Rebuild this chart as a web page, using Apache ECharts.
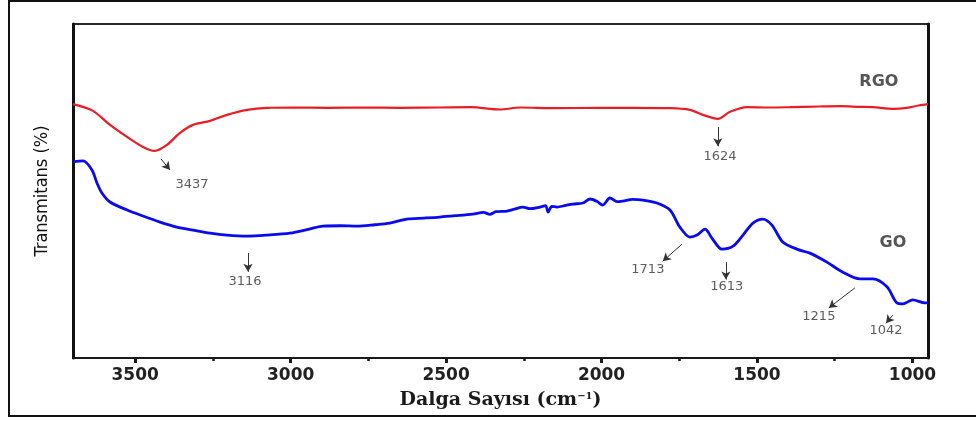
<!DOCTYPE html>
<html>
<head>
<meta charset="utf-8">
<title>FTIR: GO ve RGO</title>
<script src="https://cdn.jsdelivr.net/npm/echarts@6/dist/echarts.min.js"></script>
<style>
  html, body { margin: 0; padding: 0; background: #fff; }
  #chart { width: 976px; height: 421px; }
</style>
</head>
<body>
<div id="chart"></div>
<script>
// FTIR spectra of reduced graphene oxide (RGO) and graphene oxide (GO)
const rgoWavenumber = [3700, 3636, 3581, 3526, 3475, 3437, 3398, 3356, 3314, 3259, 3205, 3140, 3076, 2992, 2880, 2760, 2648, 2520, 2420, 2327, 2262, 2150, 2005, 1900, 1780, 1716, 1674, 1626, 1587, 1532, 1460, 1394, 1300, 1233, 1170, 1127, 1063, 1018, 980, 950];
const rgoValue      = [76.0, 74.0, 69.8, 66.2, 63.2, 62.0, 63.8, 67.4, 69.8, 71.0, 72.8, 74.3, 74.9, 75.0, 74.9, 75.0, 74.9, 75.0, 75.1, 74.4, 75.0, 74.8, 74.9, 74.9, 74.8, 74.3, 72.8, 71.6, 73.7, 75.1, 75.0, 75.1, 75.3, 75.4, 75.2, 75.1, 74.6, 74.9, 75.6, 76.0];

const goWavenumber = [3700, 3668, 3639, 3623, 3607, 3581, 3526, 3475, 3420, 3366, 3314, 3259, 3205, 3140, 3076, 3002, 2940, 2896, 2840, 2787, 2730, 2681, 2626, 2570, 2520, 2470, 2414, 2380, 2359, 2340, 2304, 2280, 2253, 2230, 2198, 2180, 2172, 2160, 2143, 2115, 2092, 2060, 2037, 2015, 1996, 1973, 1950, 1931, 1900, 1867, 1822, 1780, 1748, 1716, 1693, 1667, 1645, 1613, 1577, 1545, 1513, 1481, 1452, 1417, 1372, 1330, 1275, 1224, 1169, 1127, 1082, 1050, 1031, 999, 960, 950];
const goValue      = [58.7, 59.0, 56.3, 52.4, 49.4, 46.7, 44.3, 42.5, 40.7, 39.2, 38.3, 37.4, 36.8, 36.5, 36.8, 37.4, 38.6, 39.5, 39.6, 39.5, 39.9, 40.4, 41.6, 41.9, 42.2, 42.6, 43.1, 43.6, 43.0, 43.8, 44.0, 44.6, 45.2, 44.7, 45.2, 45.6, 43.7, 45.4, 45.2, 45.7, 46.1, 46.4, 47.6, 46.9, 45.8, 47.9, 46.8, 47.0, 47.5, 47.3, 46.4, 44.3, 39.2, 36.2, 36.8, 38.6, 35.9, 32.6, 33.5, 36.8, 40.4, 41.6, 39.8, 34.7, 32.6, 31.4, 28.7, 25.7, 23.7, 23.7, 21.3, 16.5, 16.2, 17.4, 16.5, 16.6];

// Axis ticks (cm^-1)
const xTickValues  = [3500, 3000, 2500, 2000, 1500, 1000];
const xMinorValues = [3250, 2750, 2250, 1750, 1250];

// Peak labels: [wavenumber, level, text]
const peakLabels = [
  [3317, 51.8, '3437'],
  [3147, 22.8, '3116'],
  [1619, 60.2, '1624'],
  [1851, 26.6, '1713'],
  [1597, 21.3, '1613'],
  [1301, 12.3, '1215'],
  [1085,  8.1, '1042']
];
// Peak arrows: [fromWavenumber, fromLevel, toWavenumber, toLevel]
const peakArrows = [
  [3417, 59.6, 3388, 56.3],
  [3137, 31.4, 3137, 25.8],
  [1626, 69.2, 1626, 63.4],
  [1741, 34.1, 1803, 29.0],
  [1600, 28.7, 1600, 23.5],
  [1185, 21.0, 1269, 15.0],
  [1063, 12.9, 1085, 10.4]
];
// Sample names: [wavenumber, level, text]
const sampleNames = [
  [1108, 82.6, 'RGO'],
  [1063, 34.4, 'GO']
];

const zip = (xs, ys) => xs.map((x, i) => [x, ys[i]]);

const chart = echarts.init(document.getElementById('chart'), null, { renderer: 'canvas' });

const xBase = { type: 'value', min: 950, max: 3700, inverse: true, splitLine: { show: false } };

chart.setOption({
  animation: false,
  backgroundColor: '#fff',
  graphic: [{
    type: 'rect',
    shape: { x: 9, y: 1, width: 990, height: 415 },
    style: { fill: 'none', stroke: '#111', lineWidth: 2 },
    silent: true
  }],
  grid: {
    left: 73, right: 48, top: 24, bottom: 63,
    show: true, borderColor: '#2a2a2a', borderWidth: 2
  },
  xAxis: [
    Object.assign({}, xBase, {
      position: 'bottom',
      name: '{t|Dalga Sayısı (cm}{s|−1}{t|)}',
      nameLocation: 'middle',
      nameGap: 33,
      nameTextStyle: {
        rich: {
          t: { fontFamily: 'DejaVu Serif', fontWeight: 'bold', fontSize: 19, color: '#1a1a1a' },
          s: { fontFamily: 'DejaVu Serif', fontWeight: 'bold', fontSize: 10, color: '#1a1a1a', verticalAlign: 'top', padding: [0, 0, 8, 0] }
        }
      },
      axisLine: { show: true, onZero: false, lineStyle: { color: '#1a1a1a', width: 2 } },
      axisTick: { show: true, inside: false, length: 5, customValues: xTickValues, lineStyle: { color: '#1a1a1a', width: 3 } },
      axisLabel: {
        show: true, customValues: xTickValues, margin: 9,
        formatter: v => String(v),
        fontFamily: 'DejaVu Sans', fontWeight: 'bold', fontSize: 17, color: '#222'
      }
    }),
    Object.assign({}, xBase, {
      position: 'bottom',
      axisLine: { show: false },
      axisTick: { show: true, inside: false, length: 3, customValues: xMinorValues, lineStyle: { color: '#1a1a1a', width: 2.5 } },
      axisLabel: { show: false }
    })
  ],
  yAxis: [
    {
      type: 'value', min: 0, max: 100, position: 'left',
      name: 'Transmitans (%)',
      nameLocation: 'middle',
      nameGap: 22,
      nameRotate: 90,
      nameTextStyle: { fontFamily: 'Liberation Sans Narrow, DejaVu Sans Condensed, sans-serif', fontSize: 18, color: '#111' },
      axisLine: { show: true, onZero: false, lineStyle: { color: '#111', width: 3 } },
      axisTick: { show: false }, axisLabel: { show: false }, splitLine: { show: false }
    },
    {
      type: 'value', min: 0, max: 100, position: 'right',
      axisLine: { show: true, onZero: false, lineStyle: { color: '#111', width: 3 } },
      axisTick: { show: false }, axisLabel: { show: false }, splitLine: { show: false }
    }
  ],
  series: [
    {
      name: 'RGO', type: 'line', xAxisIndex: 0, yAxisIndex: 0,
      data: zip(rgoWavenumber, rgoValue),
      smooth: 0.3, showSymbol: false,
      lineStyle: { color: '#ec1c24', width: 2.2 }
    },
    {
      name: 'GO', type: 'line', xAxisIndex: 0, yAxisIndex: 0,
      data: zip(goWavenumber, goValue),
      smooth: 0.3, showSymbol: false,
      lineStyle: { color: '#0a0af0', width: 2.8 },
      markLine: {
        silent: true,
        symbol: ['none', 'arrow'],
        symbolSize: [7, 8],
        label: { show: false },
        lineStyle: { color: '#333', width: 1, type: 'solid' },
        data: peakArrows.map(a => [{ coord: [a[0], a[1]] }, { coord: [a[2], a[3]] }])
      }
    },
    {
      name: 'peaks', type: 'scatter', xAxisIndex: 0, yAxisIndex: 0,
      symbolSize: 0, silent: true,
      data: peakLabels,
      label: {
        show: true, position: 'inside',
        formatter: p => p.data[2],
        fontFamily: 'DejaVu Sans', fontSize: 13, color: '#333'
      }
    },
    {
      name: 'samples', type: 'scatter', xAxisIndex: 0, yAxisIndex: 0,
      symbolSize: 0, silent: true,
      data: sampleNames,
      label: {
        show: true, position: 'inside',
        formatter: p => p.data[2],
        fontFamily: 'DejaVu Sans', fontWeight: 'bold', fontSize: 16, color: '#2a2a2a'
      }
    }
  ]
});
</script>
</body>
</html>
